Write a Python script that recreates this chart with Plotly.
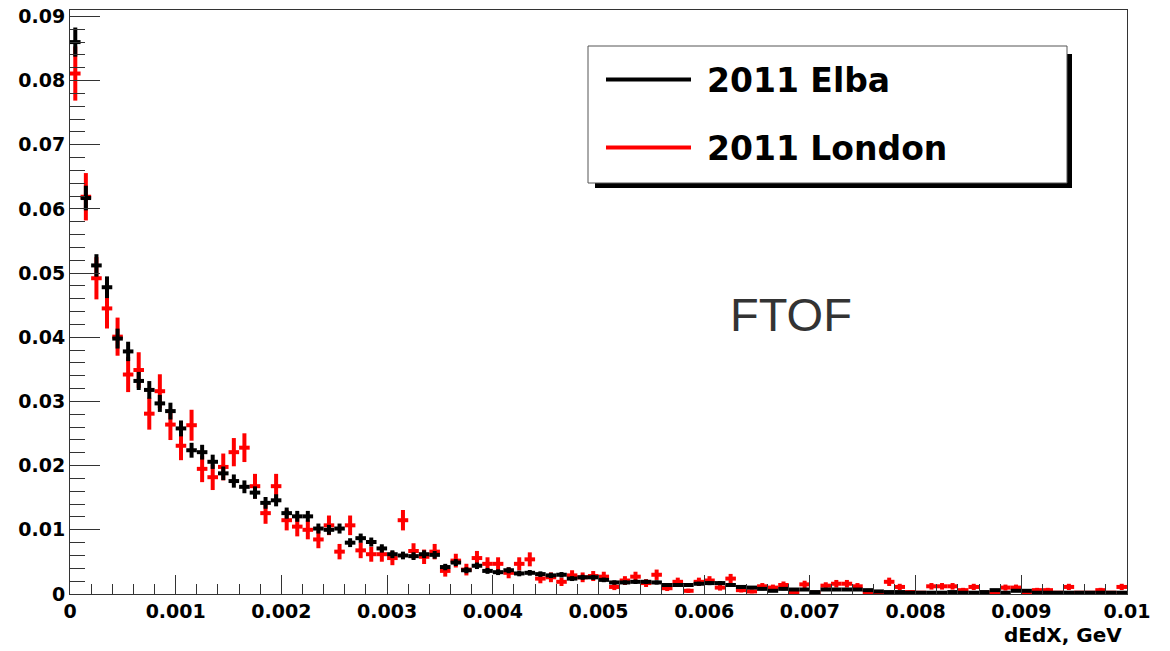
import numpy as np
import plotly.graph_objects as go

# Histogram binning: 100 bins from 0 to 0.01 GeV
bin_edges = np.linspace(0.0, 0.01, 101)
bin_centers = 0.5 * (bin_edges[:-1] + bin_edges[1:])
bin_half = 0.5 * (bin_edges[1:] - bin_edges[:-1])

elba_values = [
    0.0860, 0.0617, 0.0512, 0.0478, 0.0398, 0.0378, 0.0332, 0.0318, 0.0297, 0.0285,
    0.0258, 0.0224, 0.0221, 0.0206, 0.0188, 0.0176, 0.0167, 0.0158, 0.0142, 0.0146,
    0.0126, 0.0121, 0.0121, 0.0102, 0.0100, 0.0102, 0.0080, 0.0087, 0.0081, 0.0071,
    0.0062, 0.0060, 0.0059, 0.0062, 0.0061, 0.0042, 0.0049, 0.0037, 0.0044, 0.0036,
    0.0034, 0.0037, 0.0032, 0.0033, 0.0031, 0.0029, 0.0030, 0.0024, 0.0026, 0.0026,
    0.0022, 0.0018, 0.0018, 0.0019, 0.0019, 0.0018, 0.0014, 0.0014, 0.0014, 0.0016,
    0.0017, 0.0017, 0.0014, 0.0011, 0.0010, 0.0008, 0.0005, 0.0008, 0.0007, 0.0007,
    0.0003, 0.0007, 0.0007, 0.0007, 0.0007, 0.0006, 0.0004, 0.0003, 0.0003, 0.0002,
    0.0002, 0.0002, 0.0002, 0.0003, 0.0002, 0.0002, 0.0003, 0.0006, 0.0002, 0.0005,
    0.0005, 0.0002, 0.0002, 0.0002, 0.0002, 0.0002, 0.0002, 0.0002, 0.0002, 0.0002,
]
elba_errors = [
    0.00227, 0.00192, 0.00175, 0.00169, 0.00155, 0.00151, 0.00141, 0.00138, 0.00133, 0.00131,
    0.00124, 0.00116, 0.00115, 0.00111, 0.00106, 0.00103, 0.00100, 0.00097, 0.00092, 0.00094,
    0.00087, 0.00085, 0.00085, 0.00078, 0.00077, 0.00078, 0.00069, 0.00072, 0.00070, 0.00065,
    0.00061, 0.00060, 0.00060, 0.00061, 0.00060, 0.00050, 0.00054, 0.00047, 0.00051, 0.00046,
    0.00045, 0.00047, 0.00044, 0.00044, 0.00043, 0.00042, 0.00042, 0.00038, 0.00039, 0.00039,
    0.00036, 0.00033, 0.00033, 0.00034, 0.00034, 0.00033, 0.00029, 0.00029, 0.00029, 0.00031,
    0.00032, 0.00032, 0.00029, 0.00026, 0.00024, 0.00022, 0.00017, 0.00022, 0.00020, 0.00020,
    0.00013, 0.00020, 0.00020, 0.00020, 0.00020, 0.00019, 0.00015, 0.00013, 0.00013, 0.00011,
    0.00011, 0.00011, 0.00011, 0.00013, 0.00011, 0.00011, 0.00013, 0.00019, 0.00011, 0.00017,
    0.00017, 0.00011, 0.00011, 0.00011, 0.00011, 0.00011, 0.00011, 0.00011, 0.00011, 0.00011,
]

london_values = [
    0.0811, 0.0619, 0.0492, 0.0445, 0.0401, 0.0342, 0.0349, 0.0281, 0.0316, 0.0264,
    0.0231, 0.0263, 0.0195, 0.0182, 0.0198, 0.0221, 0.0228, 0.0168, 0.0126, 0.0168,
    0.0115, 0.0105, 0.0100, 0.0085, 0.0107, 0.0066, 0.0107, 0.0068, 0.0062, 0.0062,
    0.0056, 0.0115, 0.0067, 0.0058, 0.0066, 0.0036, 0.0052, 0.0038, 0.0056, 0.0047,
    0.0047, 0.0033, 0.0047, 0.0054, 0.0024, 0.0026, 0.0019, 0.0029, 0.0026, 0.0028,
    0.0027, 0.0011, 0.0021, 0.0027, 0.0017, 0.0030, 0.0009, 0.0019, 0.0005, 0.0019,
    0.0021, 0.0010, 0.0024, 0.0006, 0.0004, 0.0012, 0.0010, 0.0014, 0.0003, 0.0015,
    0.0002, 0.0013, 0.0016, 0.0016, 0.0012, 0.0003, 0.0002, 0.0019, 0.0011, 0.0003,
    0.0002, 0.0012, 0.0012, 0.0012, 0.0006, 0.0011, 0.0002, 0.0002, 0.0010, 0.0010,
    0.0002, 0.0006, 0.0006, 0.0002, 0.0011, 0.0002, 0.0002, 0.0006, 0.0002, 0.0011,
]
london_errors = [
    0.00422, 0.00369, 0.00329, 0.00313, 0.00297, 0.00274, 0.00277, 0.00249, 0.00264, 0.00241,
    0.00225, 0.00241, 0.00207, 0.00200, 0.00209, 0.00220, 0.00224, 0.00192, 0.00166, 0.00192,
    0.00159, 0.00152, 0.00148, 0.00137, 0.00153, 0.00120, 0.00153, 0.00122, 0.00117, 0.00117,
    0.00111, 0.00159, 0.00121, 0.00113, 0.00120, 0.00089, 0.00107, 0.00091, 0.00111, 0.00102,
    0.00102, 0.00085, 0.00102, 0.00109, 0.00073, 0.00076, 0.00065, 0.00080, 0.00076, 0.00078,
    0.00077, 0.00049, 0.00068, 0.00077, 0.00061, 0.00081, 0.00044, 0.00065, 0.00033, 0.00065,
    0.00068, 0.00047, 0.00073, 0.00036, 0.00030, 0.00051, 0.00047, 0.00055, 0.00026, 0.00057,
    0.00021, 0.00053, 0.00059, 0.00059, 0.00051, 0.00026, 0.00021, 0.00065, 0.00049, 0.00026,
    0.00021, 0.00051, 0.00051, 0.00051, 0.00036, 0.00049, 0.00021, 0.00021, 0.00047, 0.00047,
    0.00021, 0.00036, 0.00036, 0.00021, 0.00049, 0.00021, 0.00021, 0.00036, 0.00021, 0.00049,
]

x_tick_vals = [0, 0.001, 0.002, 0.003, 0.004, 0.005, 0.006, 0.007, 0.008, 0.009, 0.01]
x_tick_text = ["0", "0.001", "0.002", "0.003", "0.004", "0.005", "0.006", "0.007", "0.008", "0.009", "0.01"]
y_tick_vals = [0, 0.01, 0.02, 0.03, 0.04, 0.05, 0.06, 0.07, 0.08, 0.09]
y_tick_text = ["0", "0.01", "0.02", "0.03", "0.04", "0.05", "0.06", "0.07", "0.08", "0.09"]

series_names = ["2011 Elba", "2011 London"]
series_colors = ["#000000", "#ff0000"]

BOLD_FONT = "DejaVu Sans, sans-serif"
PLAIN_FONT = "Liberation Sans, Arial, Helvetica, sans-serif"

fig = go.Figure()


def hist_trace(values, errors, color, name):
    return go.Scatter(
        x=bin_centers, y=values, mode="markers", name=name, showlegend=False,
        marker=dict(size=1, color=color, opacity=0),
        error_x=dict(type="data", array=bin_half, color=color, thickness=4, width=0),
        error_y=dict(type="data", array=errors, color=color, thickness=4, width=0),
        hoverinfo="x+y",
    )


# red first, black on top
fig.add_trace(hist_trace(london_values, london_errors, series_colors[1], series_names[1]))
fig.add_trace(hist_trace(elba_values, elba_errors, series_colors[0], series_names[0]))

axis_common = dict(
    showgrid=False, zeroline=False, showline=True, linecolor="#333333", linewidth=1,
    mirror=True, ticks="inside", tickcolor="#333333", tickwidth=1,
    ticklabeloverflow="allow", automargin=False,
    tickfont=dict(family=BOLD_FONT, size=19, color="#000000", weight="bold"),
)

fig.update_xaxes(
    range=[0, 0.01], tickvals=x_tick_vals, ticktext=x_tick_text, ticklen=19,
    minor=dict(ticks="inside", dtick=0.0002, ticklen=10, tickcolor="#333333", tickwidth=1, showgrid=False),
    **axis_common,
)
fig.update_yaxes(
    range=[0, 0.0910], tickvals=y_tick_vals, ticktext=y_tick_text, ticklen=30,
    minor=dict(ticks="inside", dtick=0.002, ticklen=15, tickcolor="#333333", tickwidth=1, showgrid=False),
    **axis_common,
)

# Page body margin is removed (see post_script), so figure covers the window.
FIG_W, FIG_H = 1170, 651
PL, PR, PT, PB = 70, 1127, 10, 594  # plot-area edges in window pixels

px_w, px_h = float(PR - PL), float(PB - PT)


def px_x(p):
    return (p - PL) / px_w


def px_y(p):
    return (PB - p) / px_h


shapes = [
    dict(type="rect", xref="paper", yref="paper", x0=px_x(595), x1=px_x(1072), y0=px_y(188), y1=px_y(54),
         fillcolor="#000000", line=dict(width=0), layer="above"),
    dict(type="rect", xref="paper", yref="paper", x0=px_x(588), x1=px_x(1067), y0=px_y(183), y1=px_y(46),
         fillcolor="#ffffff", line=dict(color="#555555", width=1), layer="above"),
]
legend_rows_py = [79.5, 147.5]
annotations = []
for name, color, py in zip(series_names, series_colors, legend_rows_py):
    shapes.append(dict(type="line", xref="paper", yref="paper", x0=px_x(606), x1=px_x(691),
                       y0=px_y(py), y1=px_y(py), line=dict(color=color, width=4), layer="above"))
    annotations.append(dict(xref="paper", yref="paper", x=px_x(705), y=px_y(py + 1), xanchor="left",
                            yanchor="middle", text=name, showarrow=False,
                            font=dict(family=BOLD_FONT, size=33, color="#000000", weight="bold")))

annotations.append(dict(xref="paper", yref="paper", x=px_x(791), y=px_y(314), xanchor="center",
                        yanchor="middle", text="FTOF", showarrow=False,
                        font=dict(family=PLAIN_FONT, size=47, color="#333333")))
annotations.append(dict(xref="paper", yref="paper", x=px_x(1124), y=px_y(635), xanchor="right",
                        yanchor="middle", text="dEdX, GeV", showarrow=False,
                        font=dict(family=BOLD_FONT, size=20, color="#000000", weight="bold")))

fig.update_layout(
    width=FIG_W, height=FIG_H,
    margin=dict(l=PL, r=FIG_W - PR, t=PT, b=FIG_H - PB, autoexpand=False),
    paper_bgcolor="#ffffff", plot_bgcolor="#ffffff",
    shapes=shapes, annotations=annotations, showlegend=False,
)

fig.write_html(
    "out.html",
    config={"displayModeBar": False},
    post_script="document.body.style.margin='0';document.body.style.overflow='hidden';",
)
